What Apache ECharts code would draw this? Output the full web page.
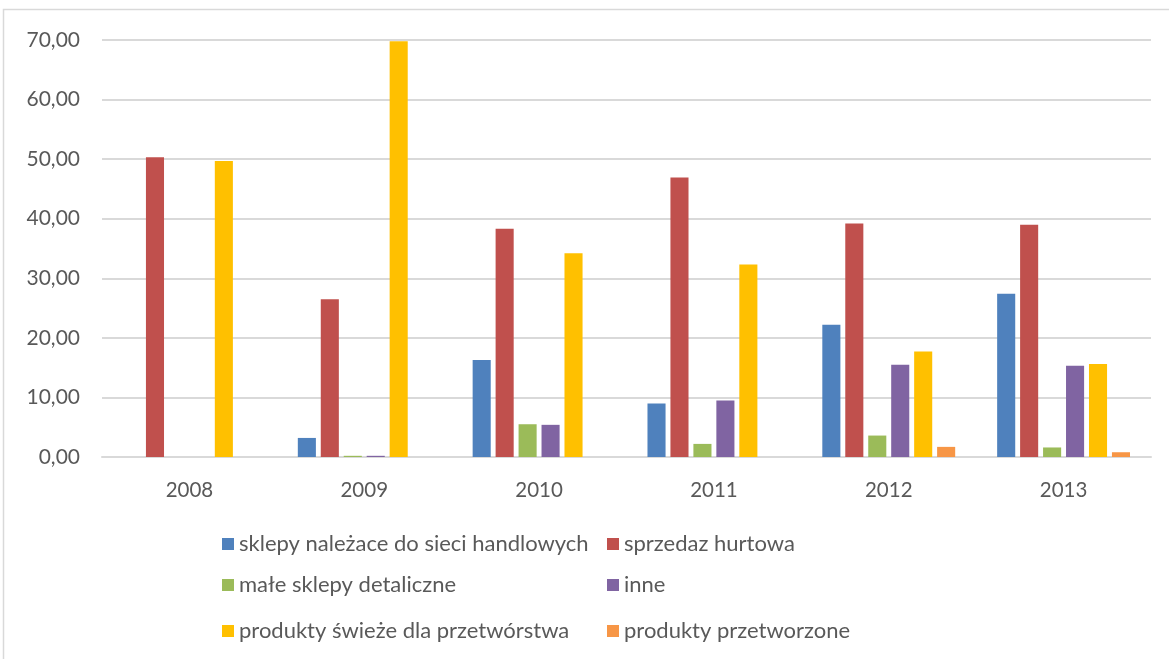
<!DOCTYPE html>
<html>
<head>
<meta charset="utf-8">
<script src="https://cdn.jsdelivr.net/npm/echarts@6/dist/echarts.min.js"></script>
<style>
  html, body { margin: 0; padding: 0; background: #fff; }
  #chart { width: 1169px; height: 659px; }
</style>
</head>
<body>
<div id="chart"></div>
<script>
const years = ['2008', '2009', '2010', '2011', '2012', '2013'];
const seriesNames = [
    'sklepy należace do sieci handlowych',
    'sprzedaz hurtowa',
    'małe sklepy detaliczne',
    'inne',
    'produkty świeże dla przetwórstwa',
    'produkty przetworzone'
];
const sieci       = [0, 3.2, 16.3, 9.0, 22.2, 27.4];
const hurtowa     = [50.3, 26.5, 38.3, 46.9, 39.2, 39.0];
const maleSklepy  = [0, 0.2, 5.5, 2.2, 3.6, 1.6];
const inne        = [0, 0.2, 5.4, 9.5, 15.5, 15.3];
const swieze      = [49.7, 69.8, 34.2, 32.3, 17.7, 15.6];
const przetworzone = [0, 0, 0, 0, 1.7, 0.8];
const colors = ['#4f81bd', '#c0504d', '#9bbb59', '#8064a2', '#ffc000', '#f79646'];

const values = [sieci, hurtowa, maleSklepy, inne, swieze, przetworzone];
const font = 'Lato, "Open Sans", sans-serif';

const chart = echarts.init(document.getElementById('chart'));

// legend laid out as 2 columns x 3 rows
const legendPos = [
    { left: 217, top: 528 }, { left: 602, top: 528 },
    { left: 217, top: 569 }, { left: 602, top: 569 },
    { left: 217, top: 615 }, { left: 602, top: 615 }
];

chart.setOption({
    animation: false,
    color: colors,
    graphic: [{
        type: 'rect', silent: true,
        shape: { x: 3.5, y: 9.5, width: 1300, height: 800 },
        style: { fill: 'none', stroke: '#d9d9d9', lineWidth: 1.5 }
    }],
    grid: { left: 102, right: 18, top: 40, bottom: 202 },
    legend: seriesNames.map((n, i) => ({
        data: [n],
        left: legendPos[i].left, top: legendPos[i].top,
        itemWidth: 12, itemHeight: 12, icon: 'rect',
        textStyle: { color: '#595959', fontSize: 22, fontFamily: font }
    })),
    xAxis: {
        type: 'category', data: years,
        axisLine: { lineStyle: { color: '#d9d9d9', width: 2 } },
        axisTick: { show: false },
        axisLabel: { color: '#595959', fontSize: 20.5, fontFamily: font, margin: 23 }
    },
    yAxis: {
        type: 'value', min: 0, max: 70, interval: 10,
        axisLine: { show: false },
        axisTick: { show: false },
        splitLine: { lineStyle: { color: '#d9d9d9', width: 2 } },
        axisLabel: {
            color: '#595959', fontSize: 21, fontFamily: font, margin: 22,
            formatter: v => v.toFixed(2).replace('.', ',')
        }
    },
    series: seriesNames.map((n, i) => ({
        name: n, type: 'bar', data: values[i],
        barGap: '27%', barCategoryGap: '24%',
        itemStyle: { color: colors[i] }
    }))
});

window.onresize = () => chart.resize();
</script>
</body>
</html>
